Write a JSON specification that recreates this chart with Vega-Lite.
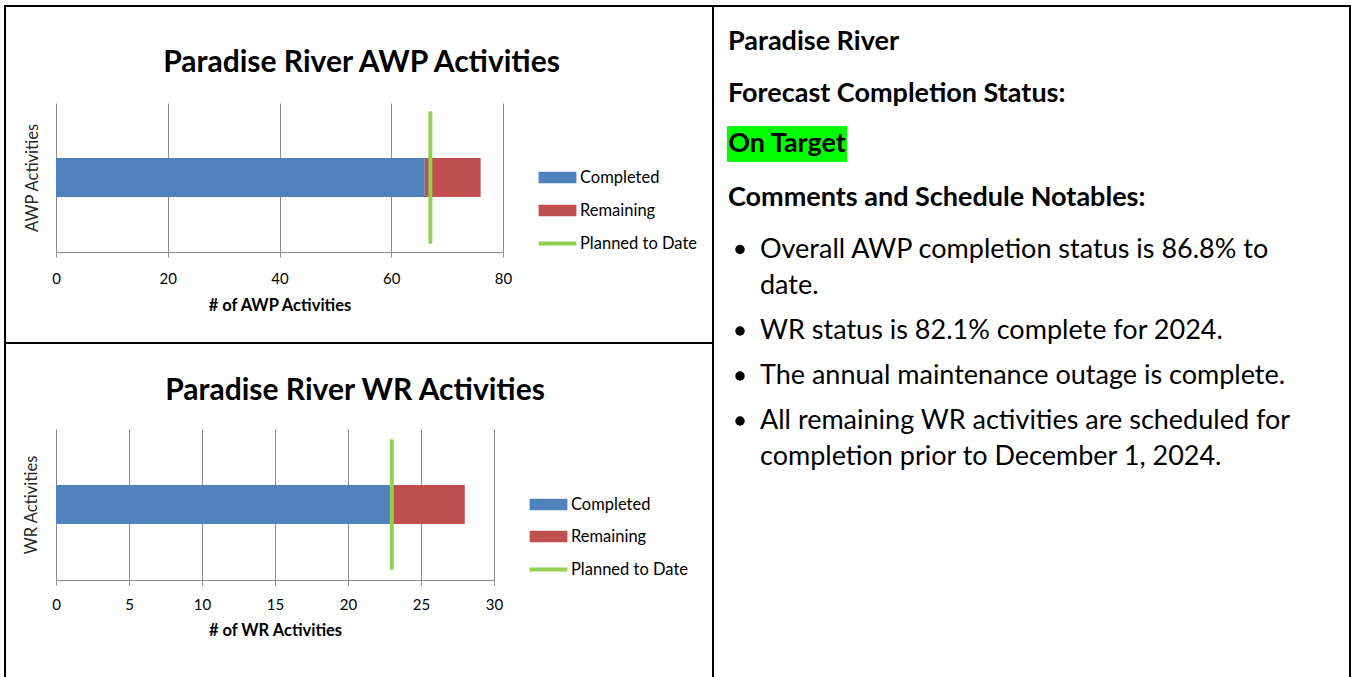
{
  "$schema": "https://vega.github.io/schema/vega-lite/v6.json",
  "background": "white",
  "padding": {"left": 4, "top": 5, "right": 0, "bottom": 0},
  "spacing": 0,
  "config": {"view": {"stroke": null}, "font": "Lato", "concat": {"spacing": 0}},
  "datasets": {
    "none": [],
    "awp": [
      {"activity": "AWP Activities", "status": "Completed", "count": 66},
      {"activity": "AWP Activities", "status": "Remaining", "count": 10}
    ],
    "awp_plan": [{"activity": "AWP Activities", "status": "Planned to Date", "count": 67}],
    "wr": [
      {"activity": "WR Activities", "status": "Completed", "count": 23},
      {"activity": "WR Activities", "status": "Remaining", "count": 5}
    ],
    "wr_plan": [{"activity": "WR Activities", "status": "Planned to Date", "count": 23}],
    "notes": [
      {"id": "pr", "part": "text", "text": "Paradise River"},
      {"id": "fc", "part": "text", "text": "Forecast Completion Status:"},
      {"id": "ot", "part": "text", "text": "On Target"},
      {"id": "cm", "part": "text", "text": "Comments and Schedule Notables:"},
      {"id": "b1a", "part": "bullet", "text": "●"},
      {"id": "b1a", "part": "text", "text": "Overall AWP completion status is 86.8% to"},
      {"id": "b1b", "part": "text", "text": "date."},
      {"id": "b2", "part": "bullet", "text": "●"},
      {"id": "b2", "part": "text", "text": "WR status is 82.1% complete for 2024."},
      {"id": "b3", "part": "bullet", "text": "●"},
      {"id": "b3", "part": "text", "text": "The annual maintenance outage is complete."},
      {"id": "b4a", "part": "bullet", "text": "●"},
      {"id": "b4a", "part": "text", "text": "All remaining WR activities are scheduled for"},
      {"id": "b4b", "part": "text", "text": "completion prior to December 1, 2024."}
    ]
  },
  "hconcat": [
    {
      "columns": 5,
      "bounds": "flush",
      "spacing": 0,
      "resolve": {"scale": {"color": "independent", "fill": "independent"}, "legend": {"color": "independent", "fill": "independent"}},
      "concat": [
        {"width": 2, "height": 2, "view": {"fill": "black", "stroke": null}, "data": {"name": "none"}, "mark": "point", "encoding": {}},
        {"width": 50, "height": 2, "view": {"fill": "black", "stroke": null}, "data": {"name": "none"}, "mark": "point", "encoding": {}},
        {"width": 447, "height": 2, "view": {"fill": "black", "stroke": null}, "data": {"name": "none"}, "mark": "point", "encoding": {}},
        {"width": 209, "height": 2, "view": {"fill": "black", "stroke": null}, "data": {"name": "none"}, "mark": "point", "encoding": {}},
        {"width": 2, "height": 2, "view": {"fill": "black", "stroke": null}, "data": {"name": "none"}, "mark": "point", "encoding": {}},

        {"width": 2, "height": 96, "view": {"fill": "black", "stroke": null}, "data": {"name": "none"}, "mark": "point", "encoding": {}},
        {"width": 1, "height": 1, "data": {"name": "none"}, "mark": "point", "encoding": {}},
        {"width": 1, "height": 1, "data": {"name": "none"}, "mark": "point", "encoding": {}},
        {"width": 1, "height": 1, "data": {"name": "none"}, "mark": "point", "encoding": {}},
        {"width": 2, "height": 96, "view": {"fill": "black", "stroke": null}, "data": {"name": "none"}, "mark": "point", "encoding": {}},

        {"width": 2, "height": 149, "view": {"fill": "black", "stroke": null}, "data": {"name": "none"}, "mark": "point", "encoding": {}},
        {"width": 1, "height": 1, "data": {"name": "none"}, "mark": "point", "encoding": {}},
        {
          "width": 447,
          "height": 149,
          "title": {"text": "Paradise River AWP Activities", "frame": "group", "anchor": "middle", "dx": 82, "dy": 30, "font": "Lato", "fontSize": 30, "fontWeight": "bold", "color": "black", "baseline": "alphabetic", "offset": 31},
          "layer": [
            {
              "data": {"name": "awp"},
              "mark": {"type": "bar", "height": 39},
              "encoding": {
                "y": {"field": "activity", "type": "nominal", "title": "AWP Activities",
                  "axis": {"labels": false, "ticks": false, "domain": false, "grid": false, "titleFont": "Lato", "titleFontSize": 16.5, "titleFontWeight": "normal", "titleColor": "#262626", "titlePadding": 16}},
                "x": {"field": "count", "type": "quantitative", "stack": "zero", "title": "# of AWP Activities",
                  "scale": {"domain": [0, 80], "nice": false},
                  "axis": {"values": [0, 20, 40, 60, 80], "grid": true, "gridColor": "#8C8C8C", "domainColor": "#8C8C8C", "tickColor": "#8C8C8C", "tickSize": 5, "labelFlush": false, "labelOverlap": false, "labelFont": "Lato", "labelFontSize": 15, "labelColor": "black", "labelPadding": 14, "titleFont": "Lato", "titleFontSize": 16.5, "titleFontWeight": "bold", "titleColor": "black", "titlePadding": 11}},
                "color": {"field": "status", "type": "nominal",
                  "scale": {"domain": ["Completed", "Remaining"], "range": ["#4F81BD", "#C0504D"]},
                  "legend": {"title": null, "orient": "none", "legendX": 491, "legendY": 64, "symbolType": "M-1.8,-0.55H1.8V0.55H-1.8Z", "symbolSize": 441, "symbolStrokeWidth": 0, "symbolOpacity": 1, "labelFont": "Lato", "labelFontSize": 16.5, "labelColor": "black", "labelOffset": 12, "rowPadding": 14, "padding": 0}}
              }
            },
            {
              "data": {"name": "awp_plan"},
              "mark": {"type": "tick", "thickness": 4, "size": 133, "cornerRadius": 2, "opacity": 1},
              "encoding": {
                "y": {"field": "activity", "type": "nominal"},
                "x": {"field": "count", "type": "quantitative"},
                "fill": {"field": "status", "type": "nominal",
                  "scale": {"domain": ["Planned to Date"], "range": ["#92D050"]},
                  "legend": {"title": null, "orient": "none", "legendX": 491, "legendY": 130, "symbolType": "M-1.8,-0.19H1.8V0.19H-1.8Z", "symbolSize": 441, "symbolStrokeWidth": 0, "symbolOpacity": 1, "labelFont": "Lato", "labelFontSize": 16.5, "labelColor": "black", "labelOffset": 12, "padding": 0}}
              }
            }
          ]
        },
        {"width": 1, "height": 1, "data": {"name": "none"}, "mark": "point", "encoding": {}},
        {"width": 2, "height": 149, "view": {"fill": "black", "stroke": null}, "data": {"name": "none"}, "mark": "point", "encoding": {}},

        {"width": 2, "height": 90, "view": {"fill": "black", "stroke": null}, "data": {"name": "none"}, "mark": "point", "encoding": {}},
        {"width": 1, "height": 1, "data": {"name": "none"}, "mark": "point", "encoding": {}},
        {"width": 1, "height": 1, "data": {"name": "none"}, "mark": "point", "encoding": {}},
        {"width": 1, "height": 1, "data": {"name": "none"}, "mark": "point", "encoding": {}},
        {"width": 2, "height": 90, "view": {"fill": "black", "stroke": null}, "data": {"name": "none"}, "mark": "point", "encoding": {}},

        {"width": 2, "height": 2, "view": {"fill": "black", "stroke": null}, "data": {"name": "none"}, "mark": "point", "encoding": {}},
        {"width": 50, "height": 2, "view": {"fill": "black", "stroke": null}, "data": {"name": "none"}, "mark": "point", "encoding": {}},
        {"width": 447, "height": 2, "view": {"fill": "black", "stroke": null}, "data": {"name": "none"}, "mark": "point", "encoding": {}},
        {"width": 209, "height": 2, "view": {"fill": "black", "stroke": null}, "data": {"name": "none"}, "mark": "point", "encoding": {}},
        {"width": 2, "height": 2, "view": {"fill": "black", "stroke": null}, "data": {"name": "none"}, "mark": "point", "encoding": {}},

        {"width": 2, "height": 85, "view": {"fill": "black", "stroke": null}, "data": {"name": "none"}, "mark": "point", "encoding": {}},
        {"width": 1, "height": 1, "data": {"name": "none"}, "mark": "point", "encoding": {}},
        {"width": 1, "height": 1, "data": {"name": "none"}, "mark": "point", "encoding": {}},
        {"width": 1, "height": 1, "data": {"name": "none"}, "mark": "point", "encoding": {}},
        {"width": 2, "height": 85, "view": {"fill": "black", "stroke": null}, "data": {"name": "none"}, "mark": "point", "encoding": {}},

        {"width": 2, "height": 151, "view": {"fill": "black", "stroke": null}, "data": {"name": "none"}, "mark": "point", "encoding": {}},
        {"width": 1, "height": 1, "data": {"name": "none"}, "mark": "point", "encoding": {}},
        {
          "width": 438,
          "height": 151,
          "title": {"text": "Paradise River WR Activities", "frame": "group", "anchor": "middle", "dx": 80, "dy": 31, "font": "Lato", "fontSize": 30, "fontWeight": "bold", "color": "black", "baseline": "alphabetic", "offset": 30},
          "layer": [
            {
              "data": {"name": "wr"},
              "mark": {"type": "bar", "height": 39},
              "encoding": {
                "y": {"field": "activity", "type": "nominal", "title": "WR Activities",
                  "axis": {"labels": false, "ticks": false, "domain": false, "grid": false, "titleFont": "Lato", "titleFontSize": 16.5, "titleFontWeight": "normal", "titleColor": "#262626", "titlePadding": 17}},
                "x": {"field": "count", "type": "quantitative", "stack": "zero", "title": "# of WR Activities",
                  "scale": {"domain": [0, 30], "nice": false},
                  "axis": {"values": [0, 5, 10, 15, 20, 25, 30], "grid": true, "gridColor": "#8C8C8C", "domainColor": "#8C8C8C", "tickColor": "#8C8C8C", "tickSize": 5, "labelFlush": false, "labelOverlap": false, "labelFont": "Lato", "labelFontSize": 15, "labelColor": "black", "labelPadding": 12, "titleFont": "Lato", "titleFontSize": 16.5, "titleFontWeight": "bold", "titleColor": "black", "titlePadding": 10}},
                "color": {"field": "status", "type": "nominal",
                  "scale": {"domain": ["Completed", "Remaining"], "range": ["#4F81BD", "#C0504D"]},
                  "legend": {"title": null, "orient": "none", "legendX": 482, "legendY": 65, "symbolType": "M-1.8,-0.55H1.8V0.55H-1.8Z", "symbolSize": 441, "symbolStrokeWidth": 0, "symbolOpacity": 1, "labelFont": "Lato", "labelFontSize": 16.5, "labelColor": "black", "labelOffset": 12, "rowPadding": 13, "padding": 0}}
              }
            },
            {
              "data": {"name": "wr_plan"},
              "mark": {"type": "tick", "thickness": 4, "size": 131, "cornerRadius": 2, "opacity": 1},
              "encoding": {
                "y": {"field": "activity", "type": "nominal"},
                "x": {"field": "count", "type": "quantitative"},
                "fill": {"field": "status", "type": "nominal",
                  "scale": {"domain": ["Planned to Date"], "range": ["#92D050"]},
                  "legend": {"title": null, "orient": "none", "legendX": 482, "legendY": 130, "symbolType": "M-1.8,-0.19H1.8V0.19H-1.8Z", "symbolSize": 441, "symbolStrokeWidth": 0, "symbolOpacity": 1, "labelFont": "Lato", "labelFontSize": 16.5, "labelColor": "black", "labelOffset": 12, "padding": 0}}
              }
            }
          ]
        },
        {"width": 1, "height": 1, "data": {"name": "none"}, "mark": "point", "encoding": {}},
        {"width": 2, "height": 151, "view": {"fill": "black", "stroke": null}, "data": {"name": "none"}, "mark": "point", "encoding": {}},

        {"width": 2, "height": 120, "view": {"fill": "black", "stroke": null}, "data": {"name": "none"}, "mark": "point", "encoding": {}},
        {"width": 1, "height": 1, "data": {"name": "none"}, "mark": "point", "encoding": {}},
        {"width": 1, "height": 1, "data": {"name": "none"}, "mark": "point", "encoding": {}},
        {"width": 1, "height": 1, "data": {"name": "none"}, "mark": "point", "encoding": {}},
        {"width": 2, "height": 120, "view": {"fill": "black", "stroke": null}, "data": {"name": "none"}, "mark": "point", "encoding": {}}
      ]
    },
    {
      "columns": 2,
      "bounds": "flush",
      "spacing": 0,
      "concat": [
        {"width": 13, "height": 2, "view": {"fill": "black", "stroke": null}, "data": {"name": "none"}, "mark": "point", "encoding": {}},
        {"width": 622, "height": 2, "view": {"fill": "black", "stroke": null}, "data": {"name": "none"}, "mark": "point", "encoding": {}},

        {"width": 1, "height": 1, "data": {"name": "none"}, "mark": "point", "encoding": {}},
        {"width": 2, "height": 69, "data": {"name": "notes"}, "transform": [{"filter": "datum.id === 'pr'"}],
          "mark": {"type": "text", "align": "left", "baseline": "middle", "font": "Lato", "fontSize": 27, "fontWeight": "bold", "color": "black"},
          "encoding": {"text": {"field": "text"}}},

        {"width": 1, "height": 1, "data": {"name": "none"}, "mark": "point", "encoding": {}},
        {"width": 2, "height": 36, "data": {"name": "notes"}, "transform": [{"filter": "datum.id === 'fc'"}],
          "mark": {"type": "text", "align": "left", "baseline": "middle", "font": "Lato", "fontSize": 27, "fontWeight": "bold", "color": "black"},
          "encoding": {"text": {"field": "text"}}},

        {"width": 1, "height": 1, "data": {"name": "none"}, "mark": "point", "encoding": {}},
        {"width": 1, "height": 14, "data": {"name": "none"}, "mark": "point", "encoding": {}},

        {"width": 1, "height": 1, "data": {"name": "none"}, "mark": "point", "encoding": {}},
        {"width": 120, "height": 36, "view": {"fill": "#00FF00", "stroke": null}, "data": {"name": "notes"}, "transform": [{"filter": "datum.id === 'ot'"}],
          "mark": {"type": "text", "align": "center", "baseline": "middle", "font": "Lato", "fontSize": 27, "fontWeight": "bold", "color": "black"},
          "encoding": {"text": {"field": "text"}}},

        {"width": 1, "height": 1, "data": {"name": "none"}, "mark": "point", "encoding": {}},
        {"width": 2, "height": 71, "data": {"name": "notes"}, "transform": [{"filter": "datum.id === 'cm'"}],
          "mark": {"type": "text", "align": "left", "baseline": "middle", "font": "Lato", "fontSize": 27, "fontWeight": "bold", "color": "black"},
          "encoding": {"text": {"field": "text"}}},

        {"width": 1, "height": 1, "data": {"name": "none"}, "mark": "point", "encoding": {}},
        {"width": 46, "height": 33, "data": {"name": "notes"}, "transform": [{"filter": "datum.id === 'b1a'"}],
          "encoding": {"x": {"field": "part", "type": "nominal", "scale": {"type": "point", "domain": ["bullet", "text"], "padding": 0.65}, "axis": null}},
          "layer": [
            {"transform": [{"filter": "datum.part === 'bullet'"}], "mark": {"type": "point", "shape": "circle", "filled": true, "size": 90, "color": "black", "opacity": 1}},
            {"transform": [{"filter": "datum.part === 'text'"}], "mark": {"type": "text", "align": "left", "baseline": "middle", "font": "Lato", "fontSize": 27, "color": "black"}, "encoding": {"text": {"field": "text"}}}
          ]},

        {"width": 1, "height": 1, "data": {"name": "none"}, "mark": "point", "encoding": {}},
        {"width": 66, "height": 40, "data": {"name": "notes"}, "transform": [{"filter": "datum.id === 'b1b'"}],
          "mark": {"type": "text", "align": "left", "baseline": "middle", "font": "Lato", "fontSize": 27, "color": "black"},
          "encoding": {"text": {"field": "text"}}},

        {"width": 1, "height": 1, "data": {"name": "none"}, "mark": "point", "encoding": {}},
        {"width": 46, "height": 50, "data": {"name": "notes"}, "transform": [{"filter": "datum.id === 'b2'"}],
          "encoding": {"x": {"field": "part", "type": "nominal", "scale": {"type": "point", "domain": ["bullet", "text"], "padding": 0.65}, "axis": null}},
          "layer": [
            {"transform": [{"filter": "datum.part === 'bullet'"}], "mark": {"type": "point", "shape": "circle", "filled": true, "size": 90, "color": "black", "opacity": 1}},
            {"transform": [{"filter": "datum.part === 'text'"}], "mark": {"type": "text", "align": "left", "baseline": "middle", "font": "Lato", "fontSize": 27, "color": "black"}, "encoding": {"text": {"field": "text"}}}
          ]},

        {"width": 1, "height": 1, "data": {"name": "none"}, "mark": "point", "encoding": {}},
        {"width": 46, "height": 40, "data": {"name": "notes"}, "transform": [{"filter": "datum.id === 'b3'"}],
          "encoding": {"x": {"field": "part", "type": "nominal", "scale": {"type": "point", "domain": ["bullet", "text"], "padding": 0.65}, "axis": null}},
          "layer": [
            {"transform": [{"filter": "datum.part === 'bullet'"}], "mark": {"type": "point", "shape": "circle", "filled": true, "size": 90, "color": "black", "opacity": 1}},
            {"transform": [{"filter": "datum.part === 'text'"}], "mark": {"type": "text", "align": "left", "baseline": "middle", "font": "Lato", "fontSize": 27, "color": "black"}, "encoding": {"text": {"field": "text"}}}
          ]},

        {"width": 1, "height": 1, "data": {"name": "none"}, "mark": "point", "encoding": {}},
        {"width": 46, "height": 50, "data": {"name": "notes"}, "transform": [{"filter": "datum.id === 'b4a'"}],
          "encoding": {"x": {"field": "part", "type": "nominal", "scale": {"type": "point", "domain": ["bullet", "text"], "padding": 0.65}, "axis": null}},
          "layer": [
            {"transform": [{"filter": "datum.part === 'bullet'"}], "mark": {"type": "point", "shape": "circle", "filled": true, "size": 90, "color": "black", "opacity": 1}},
            {"transform": [{"filter": "datum.part === 'text'"}], "mark": {"type": "text", "align": "left", "baseline": "middle", "font": "Lato", "fontSize": 27, "color": "black"}, "encoding": {"text": {"field": "text"}}}
          ]},

        {"width": 1, "height": 1, "data": {"name": "none"}, "mark": "point", "encoding": {}},
        {"width": 66, "height": 22, "data": {"name": "notes"}, "transform": [{"filter": "datum.id === 'b4b'"}],
          "mark": {"type": "text", "align": "left", "baseline": "middle", "font": "Lato", "fontSize": 27, "color": "black"},
          "encoding": {"text": {"field": "text"}}}
      ]
    },
    {"width": 2, "height": 700, "view": {"fill": "black", "stroke": null}, "data": {"name": "none"}, "mark": "point", "encoding": {}}
  ]
}
